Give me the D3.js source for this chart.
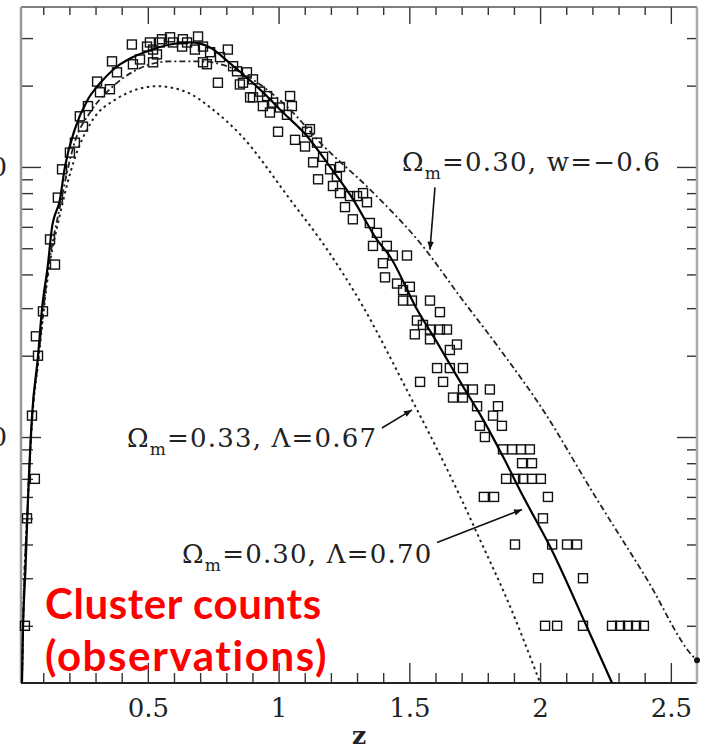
<!DOCTYPE html>
<html>
<head>
<meta charset="utf-8">
<script src="https://cdn.jsdelivr.net/npm/d3@7"></script>
<style>
body{margin:0;background:#fff}
svg{display:block}
</style>
</head>
<body>
<div id="chart"></div>
<script>
// observed cluster counts per redshift bin : [z, N]
const obsPoints = [
 [0.030,2],[0.038,5],[0.068,7],[0.057,12],[0.080,20],[0.072,23.6],[0.099,29.2],[0.145,43.5],
 [0.126,53.9],[0.156,77],[0.172,98],[0.202,113],[0.221,123],[0.240,154],[0.271,168],[0.252,141],
 [0.306,207],[0.317,189],[0.355,194],[0.363,246],[0.382,224],[0.439,284],[0.443,240],[0.470,250],
 [0.497,279],[0.508,289],[0.520,272],[0.535,261],[0.520,244],[0.546,289],[0.554,297],[0.585,302],
 [0.596,289],[0.631,279],[0.634,297],[0.650,289],[0.692,304],[0.680,272],[0.711,279],[0.711,244],
 [0.726,240],[0.738,266],[0.768,205],[0.776,255],[0.806,272],[0.826,236],[0.841,226],[0.852,202],
 [0.879,224],[0.864,205],[0.891,181],[0.902,211],[0.902,181],[0.929,190],[0.956,183],[0.940,168],
 [0.979,173],[0.967,159],[1.005,166],[1.044,183],[1.051,168],[0.998,135],[1.032,156],[1.063,126],
 [1.101,119],[1.109,135],[1.120,138],[1.147,123],[1.132,104],[1.170,109],[1.151,90],[1.197,98],
 [1.223,92],[1.235,100],[1.208,85],[1.235,80],[1.273,78],[1.254,71],[1.300,78],[1.323,80],
 [1.338,74],[1.284,64],[1.349,62],[1.376,57],[1.361,51],[1.414,51],[1.437,47],[1.491,47],
 [1.399,44],[1.407,39],[1.453,37],[1.502,36],[1.476,35],[1.476,32],[1.510,32],[1.579,32],
 [1.617,29],[1.529,27],[1.552,26],[1.579,25],[1.617,25],[1.644,25],[1.521,24],[1.579,23],
 [1.655,21],[1.682,22],[1.606,18],[1.655,18],[1.705,18],[1.541,16],[1.629,16],[1.667,14],
 [1.705,14],[1.705,15],[1.743,15],[1.759,13],[1.808,15],[1.839,13],[1.820,12],[1.770,11],
 [1.854,11],[1.789,10],
 [1.858,9],[1.893,9],[1.927,9],[1.961,9],
 [1.931,8],[1.969,8],
 [1.870,7],[1.905,7],[1.935,7],[1.969,7],[2.003,7],
 [1.785,6],[1.824,6],[2.030,6],
 [2.011,5],
 [1.904,4],[2.046,4],[2.103,4],[2.141,4],
 [1.992,3],[2.164,3],
 [2.019,2],[2.065,2],[2.164,2],[2.275,2],[2.306,2],[2.336,2],[2.367,2],[2.397,2]
];

// model Omega_m=0.30, Lambda=0.70 (solid)
const lcdmCurve = [
 [0.0187,1.23],[0.0226,1.94],[0.032,3.23],[0.0417,5.87],[0.057,11.9],[0.080,19.9],[0.0952,29.7],
 [0.118,43.5],[0.133,59.2],[0.164,75.8],[0.183,100],[0.221,138],[0.271,178],[0.317,204],[0.374,232],
 [0.432,252],[0.497,268],[0.585,284],[0.661,289],[0.738,277],[0.814,242],[0.940,189],[1.017,159],
 [1.109,130],[1.197,100],[1.285,75.8],[1.376,53.8],[1.426,46.6],[1.529,29.7],[1.606,22.4],
 [1.705,15.4],[1.782,11.6],[1.858,8.47],[1.935,6.03],[2.038,3.93],[2.180,1.97],[2.275,1.23]
];

// model Omega_m=0.33, Lambda=0.67 (dotted)
const omCurve = [
 [0.0187,1.23],[0.0226,1.94],[0.0417,5.87],[0.057,11.4],[0.080,18.6],[0.118,39.6],[0.164,66.7],
 [0.221,108],[0.279,144],[0.382,179],[0.535,199],[0.650,189],[0.749,163],[0.853,132],[1.044,75.8],
 [1.186,49.4],[1.323,30.4],[1.476,15.9],[1.694,6.03],[1.770,4.17],[1.885,2.36],[2.000,1.23]
];

// model Omega_m=0.30, w=-0.6 (dash-dot)
const wCurve = [
 [0.0187,1.23],[0.0226,1.94],[0.0417,5.87],[0.057,11.6],[0.080,19.0],[0.118,41.0],[0.164,71.4],
 [0.221,124],[0.279,159],[0.355,194],[0.470,232],[0.585,246],[0.699,246],[0.814,234],[0.929,202],
 [1.044,163],[1.159,123],[1.349,82.6],[1.552,50.8],[1.694,33.1],[1.847,21.1],[2.011,12.6],
 [2.202,6.22],[2.409,2.97],[2.585,1.54],[2.600,1.49]
];

const xTicks = [0.5, 1, 1.5, 2, 2.5];
const xTickLabels = ["0.5", "1", "1.5", "2", "2.5"];
const yTicks = [10, 100];
const yTickLabels = ["10", "100"];

// model labels: [z, N, value after Omega_m]
const modelLabels = [
 [1.472, 96.2, "=0.30,  w=\u22120.6"],
 [0.420, 9.22, "=0.33, \u039B=0.67"],
 [0.631, 3.43, "=0.30, \u039B=0.70"]
];
// arrows: [z0, N0, z1, N1]
const arrows = [
 [1.598, 84.0, 1.579, 49.4],
 [1.395, 10.8, 1.510, 12.6],
 [1.606, 4.07, 1.931, 5.39]
];

const W = 709, H = 750;
const svg = d3.select("#chart").append("svg").attr("width", W).attr("height", H);

const x = d3.scaleLinear().domain([0.015, 2.6]).range([21, 697]);
const y = d3.scaleLog().domain([1.228, 391]).range([683, 7]);

const serif = "DejaVu Serif";
const minorX = d3.range(1, 26).map(i => i / 10).filter(v => !xTicks.some(t => Math.abs(t - v) < 1e-6));
const minorY = [];
[1, 10, 100].forEach(dec => { for (let k = 2; k <= 9; k++) { let v = k * dec; if (v > 1.228 && v < 391) minorY.push(v) } });

function drawAxis(gen, tr) {
    let g = svg.append("g").attr("transform", tr).call(gen);
    g.select(".domain").remove();
    g.selectAll(".tick line").attr("stroke", "#333").attr("stroke-width", 1.4);
    g.selectAll(".tick text").attr("font-family", serif).attr("font-size", 26).attr("fill", "#222");
    return g;
}

// bottom
drawAxis(d3.axisBottom(x).tickValues(xTicks).tickSize(-20).tickPadding(16).tickFormat((d, i) => xTickLabels[i]), "translate(0,683)");
drawAxis(d3.axisBottom(x).tickValues(minorX).tickSize(-10).tickFormat(""), "translate(0,683)");
// top
drawAxis(d3.axisTop(x).tickValues(xTicks).tickSize(-17).tickFormat(""), "translate(0,7)");
drawAxis(d3.axisTop(x).tickValues(minorX).tickSize(-8).tickFormat(""), "translate(0,7)");
// left
drawAxis(d3.axisLeft(y).tickValues(yTicks).tickSize(-20).tickPadding(14).tickFormat((d, i) => yTickLabels[i]), "translate(21,0)");
drawAxis(d3.axisLeft(y).tickValues(minorY).tickSize(-12).tickFormat(""), "translate(21,0)");
// right
drawAxis(d3.axisRight(y).tickValues(yTicks).tickSize(-20).tickFormat(""), "translate(697,0)");
drawAxis(d3.axisRight(y).tickValues(minorY).tickSize(-10).tickFormat(""), "translate(697,0)");

// frame
const [x0, x1] = x.range(), [y1, y0] = y.range();
svg.append("line").attr("x1", x0).attr("x2", x1).attr("y1", y0).attr("y2", y0).attr("stroke", "#555").attr("stroke-width", 1.5);
svg.append("line").attr("x1", x0).attr("x2", x1).attr("y1", y1).attr("y2", y1).attr("stroke", "#222").attr("stroke-width", 2);
svg.append("line").attr("x1", x0).attr("x2", x0).attr("y1", y0).attr("y2", y1).attr("stroke", "#999").attr("stroke-width", 2.5);
svg.append("line").attr("x1", x1).attr("x2", x1).attr("y1", y0).attr("y2", y1).attr("stroke", "#aaa").attr("stroke-width", 2.5);

svg.append("text").text("z").attr("x", (x0 + x1) / 2).attr("y", 744).attr("text-anchor", "middle")
    .attr("font-family", serif).attr("font-weight", "bold").attr("font-size", 25).attr("fill", "#222");

// data squares
const s = 9;
svg.append("g").selectAll("rect").data(obsPoints).enter().append("rect")
    .attr("x", d => x(d[0]) - s / 2).attr("y", d => y(d[1]) - s / 2)
    .attr("width", s).attr("height", s)
    .attr("fill", "none").attr("stroke", "#111").attr("stroke-width", 1.4);

// model curves
const line = d3.line().x(d => x(d[0])).y(d => y(d[1])).curve(d3.curveMonotoneX);
svg.append("path").attr("d", line(omCurve)).attr("fill", "none").attr("stroke", "#222")
    .attr("stroke-width", 2).attr("stroke-dasharray", "2.5,3.5");
svg.append("path").attr("d", line(wCurve)).attr("fill", "none").attr("stroke", "#222")
    .attr("stroke-width", 1.8).attr("stroke-dasharray", "6,3,2,3");
svg.append("path").attr("d", line(lcdmCurve)).attr("fill", "none").attr("stroke", "#000")
    .attr("stroke-width", 2.2);
let wEnd = wCurve[wCurve.length - 1];
svg.append("circle").attr("cx", x(wEnd[0])).attr("cy", y(wEnd[1])).attr("r", 3).attr("fill", "#111");

// arrows
svg.append("defs").append("marker").attr("id", "ah").attr("viewBox", "0 0 10 10")
    .attr("refX", 10).attr("refY", 5).attr("markerWidth", 12).attr("markerHeight", 8)
    .attr("markerUnits", "userSpaceOnUse").attr("orient", "auto")
    .append("path").attr("d", "M0,1 L10,5 L0,9 z").attr("fill", "#111");
svg.append("g").selectAll("line").data(arrows).enter().append("line")
    .attr("x1", d => x(d[0])).attr("y1", d => y(d[1])).attr("x2", d => x(d[2])).attr("y2", d => y(d[3]))
    .attr("stroke", "#111").attr("stroke-width", 1.6).attr("marker-end", "url(#ah)");

// model labels
modelLabels.forEach(d => {
    let t = svg.append("text").attr("x", x(d[0])).attr("y", y(d[1]))
        .attr("font-family", serif).attr("font-size", 26).attr("letter-spacing", 1.2).attr("fill", "#222");
    t.append("tspan").text("\u03A9");
    t.append("tspan").text("m").attr("font-size", 17).attr("dy", 8);
    t.append("tspan").text(d[2]).attr("dy", -8);
});

// overlay annotation
const note = ["Cluster counts", "(observations)"];
svg.append("g").selectAll("text").data(note).enter().append("text")
    .text(d => d).attr("x", 45).attr("y", (d, i) => 619 + i * 52)
    .attr("font-family", "Lato").attr("font-weight", "bold").attr("font-size", 42)
    .attr("letter-spacing", (d, i) => i ? 1.6 : 0.6).attr("fill", "#ff0000");
</script>
</body>
</html>
